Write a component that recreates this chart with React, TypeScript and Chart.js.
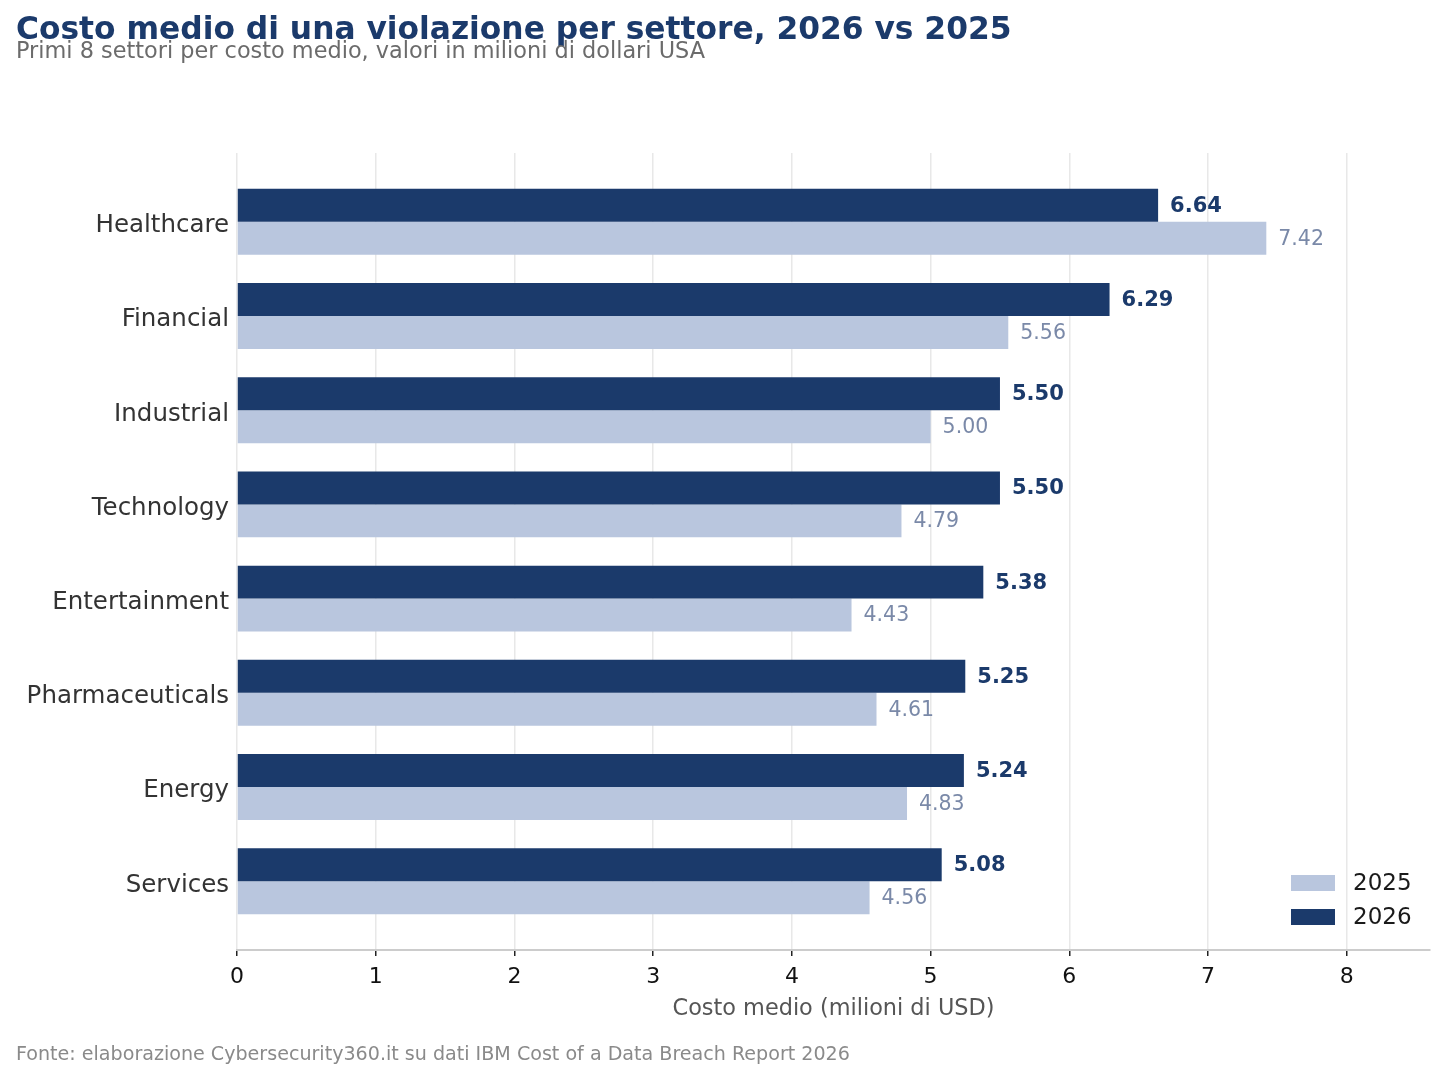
import { useRef, useEffect } from 'react';
import { Chart, registerables } from 'chart.js';

Chart.register(...registerables);

const sectors = ['Healthcare', 'Financial', 'Industrial', 'Technology', 'Entertainment', 'Pharmaceuticals', 'Energy', 'Services'];
const cost2026 = [6.64, 6.29, 5.5, 5.5, 5.38, 5.25, 5.24, 5.08];
const cost2025 = [7.42, 5.56, 5.0, 4.79, 4.43, 4.61, 4.83, 4.56];
const xTicks = [0, 1, 2, 3, 4, 5, 6, 7, 8];

const NAVY = '#1b3a6b';
const LIGHT = '#b9c6de';
const FONT = '"DejaVu Sans", sans-serif';

const textPlugin = {
  id: 'texts',
  afterDatasetsDraw(chart) {
    const ctx = chart.ctx;
    ctx.save();
    ctx.textBaseline = 'middle';
    ctx.textAlign = 'left';
    chart.data.datasets.forEach((ds, di) => {
      const meta = chart.getDatasetMeta(di);
      meta.data.forEach((bar, i) => {
        const v = ds.data[i].x;
        if (di === 0) {
          ctx.font = `bold 21px ${FONT}`;
          ctx.fillStyle = NAVY;
        } else {
          ctx.font = `20.5px ${FONT}`;
          ctx.fillStyle = '#7a89a8';
        }
        ctx.fillText(v.toFixed(2), bar.x + 12, bar.y + 1);
      });
    });
    ctx.restore();
  },
  afterDraw(chart) {
    const ctx = chart.ctx;
    ctx.save();
    ctx.textBaseline = 'middle';
    ctx.textAlign = 'left';
    ctx.font = `bold 31.3px ${FONT}`;
    ctx.fillStyle = NAVY;
    ctx.fillText('Costo medio di una violazione per settore, 2026 vs 2025', 16, 31);
    ctx.font = `22.4px ${FONT}`;
    ctx.fillStyle = '#6b6b6b';
    ctx.fillText('Primi 8 settori per costo medio, valori in milioni di dollari USA', 16, 52);
    ctx.font = `19.1px ${FONT}`;
    ctx.fillStyle = '#8a8a8a';
    ctx.fillText('Fonte: elaborazione Cybersecurity360.it su dati IBM Cost of a Data Breach Report 2026', 16, 1055);

    // legend, inside the plot at bottom right
    const items = [
      { label: '2025', color: LIGHT, y: 883 },
      { label: '2026', color: NAVY, y: 917 },
    ];
    ctx.font = `23px ${FONT}`;
    items.forEach((it) => {
      ctx.fillStyle = it.color;
      ctx.fillRect(1291, it.y - 8, 44, 16);
      ctx.fillStyle = '#1a1a1a';
      ctx.fillText(it.label, 1353, it.y + 1);
    });
    ctx.restore();
  },
};

export default function App() {
  const canvasRef = useRef(null);

  useEffect(() => {
    if (!canvasRef.current) return;
    document.body.style.margin = '0';

    const chart = new Chart(canvasRef.current, {
      type: 'bar',
      data: {
        datasets: [
          {
            label: '2026',
            data: cost2026.map((v, i) => ({ x: v, y: i })),
            backgroundColor: NAVY,
            categoryPercentage: 0.7,
            barPercentage: 1.0,
          },
          {
            label: '2025',
            data: cost2025.map((v, i) => ({ x: v, y: i })),
            backgroundColor: LIGHT,
            categoryPercentage: 0.7,
            barPercentage: 1.0,
          },
        ],
      },
      options: {
        indexAxis: 'y',
        animation: false,
        responsive: false,
        devicePixelRatio: 1,
        layout: { padding: { top: 153, right: 16, left: 0, bottom: 0 } },
        plugins: {
          legend: { display: false },
          tooltip: { enabled: false },
        },
        scales: {
          x: {
            type: 'linear',
            min: 0,
            max: 8.6,
            afterBuildTicks: (scale) => {
              scale.ticks = xTicks.map((v) => ({ value: v }));
            },
            afterFit: (scale) => {
              scale.height = 130;
            },
            ticks: {
              color: '#111',
              font: { family: FONT, size: 22 },
              padding: 8,
            },
            grid: {
              color: '#e8e8e8',
              lineWidth: 1.5,
              tickColor: '#222',
              tickLength: 6,
            },
            border: { display: true, color: '#cccccc', width: 2 },
            title: {
              display: true,
              text: 'Costo medio (milioni di USD)',
              color: '#555',
              font: { family: FONT, size: 22.4 },
              padding: { top: 8, bottom: 57 },
            },
          },
          y: {
            type: 'linear',
            reverse: true,
            offset: false,
            min: -0.73,
            max: 7.73,
            afterBuildTicks: (scale) => {
              scale.ticks = sectors.map((_, i) => ({ value: i }));
            },
            afterFit: (scale) => {
              scale.width = 237;
            },
            ticks: {
              color: '#333',
              font: { family: FONT, size: 24.5 },
              padding: 8,
              labelOffset: 4,
              callback: (v) => sectors[v] ?? '',
            },
            grid: { display: false, drawTicks: false },
            border: { display: false },
          },
        },
      },
      plugins: [textPlugin],
    });

    return () => chart.destroy();
  }, []);

  return (
    <div style={{ position: 'absolute', left: 0, top: 0, width: 1446, height: 1080 }}>
      <canvas ref={canvasRef} width={1446} height={1080} style={{ width: 1446, height: 1080 }} />
    </div>
  );
}
